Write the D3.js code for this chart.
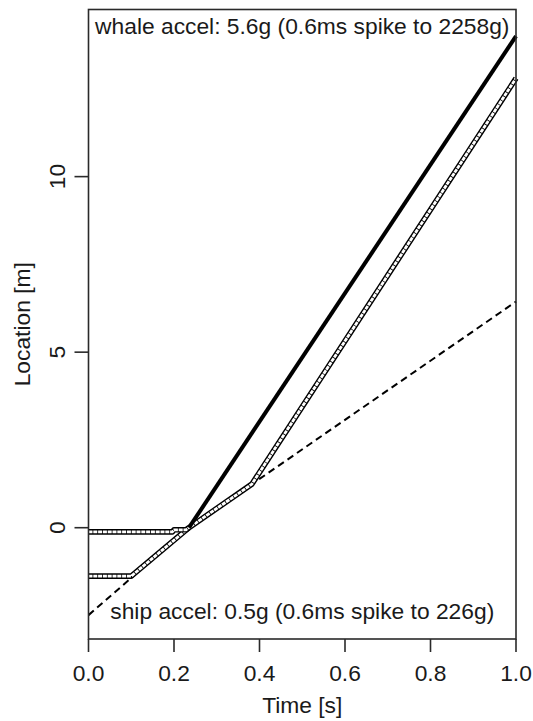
<!DOCTYPE html>
<html>
<head>
<meta charset="utf-8">
<script src="https://cdn.jsdelivr.net/npm/d3@7"></script>
<style>
  body { margin: 0; background: #fff; }
  text { font-family: "Liberation Sans", Arial, sans-serif; fill: #1a1a1a; }
</style>
</head>
<body>
<div id="chart"></div>
<script>
// tick labels
var timeTicks = [0, 0.2, 0.4, 0.6, 0.8, 1.0];
var locTicks = [0, 5, 10];

// ship (dashed)
var shipTime = [0, 0.235, 1.0];
var shipLoc = [-2.49, 0.0, 6.44];

// whale at rest, then pushed (upper track)
var whaleRestTime = [0, 0.196, 0.2, 0.228, 0.235];
var whaleRestLoc = [-0.12, -0.12, -0.06, -0.06, 0.0];
var whaleMoveTime = [0.235, 1.0];
var whaleMoveLoc = [0.0, 14.0];

// second body (lower track), rides with the ship then leaves it
var bodyTime = [0, 0.1, 0.235, 0.382, 1.0];
var bodyLoc = [-1.38, -1.38, 0.0, 1.24, 12.8];

var topText = "whale accel: 5.6g (0.6ms spike to 2258g)";
var bottomText = "ship accel: 0.5g (0.6ms spike to 226g)";

var W = 533, H = 721;
var padL = 88.5, padR = 516, padT = 9.5, padB = 639;
var fs = "22.8px";

var svg = d3.select("#chart").append("svg")
    .attr("width", W)
    .attr("height", H);

var x = d3.scaleLinear().domain([0, 1]).range([padL, padR]);
var y = d3.scaleLinear().domain([-3.17, 14.76]).range([padB, padT]);

function pts(ts, vs) {
    return ts.map(function (t, i) { return [t, vs[i]]; });
}

var line = d3.line()
    .x(function (d) { return x(d[0]); })
    .y(function (d) { return y(d[1]); });

var plot = svg.append("g");

// ship
plot.append("path")
    .attr("d", line(pts(shipTime, shipLoc)))
    .attr("fill", "none")
    .attr("stroke", "#000")
    .attr("stroke-width", 2)
    .attr("stroke-dasharray", "7,4.5");

// chain of small open circles look: black band with white core
function chain(data) {
    plot.append("path")
        .attr("d", line(data))
        .attr("fill", "none")
        .attr("stroke", "#000")
        .attr("stroke-width", 5.6)
        .attr("stroke-linejoin", "round");
    plot.append("path")
        .attr("d", line(data))
        .attr("fill", "none")
        .attr("stroke", "#fff")
        .attr("stroke-width", 2.8)
        .attr("stroke-dasharray", "4,0.8")
        .attr("stroke-linejoin", "round");
}

chain(pts(bodyTime, bodyLoc));
chain(pts(whaleRestTime, whaleRestLoc));

plot.append("path")
    .attr("d", line(pts(whaleMoveTime, whaleMoveLoc)))
    .attr("fill", "none")
    .attr("stroke", "#000")
    .attr("stroke-width", 4);

// box
svg.append("rect")
    .attr("x", padL)
    .attr("y", padT)
    .attr("width", padR - padL)
    .attr("height", padB - padT)
    .attr("fill", "none")
    .attr("stroke", "#2a2a2a")
    .attr("stroke-width", 1.6);

// x axis
var xAxis = svg.append("g");
xAxis.selectAll(".tk").data(timeTicks).enter().append("line")
    .attr("x1", function (d) { return x(d); })
    .attr("x2", function (d) { return x(d); })
    .attr("y1", padB).attr("y2", padB + 13)
    .attr("stroke", "#2a2a2a").attr("stroke-width", 1.6);
xAxis.selectAll(".lb").data(timeTicks).enter().append("text")
    .attr("x", function (d) { return x(d); })
    .attr("y", 681)
    .attr("text-anchor", "middle")
    .attr("font-size", fs)
    .text(function (d) { return d3.format(".1f")(d); });
svg.append("text")
    .attr("x", (padL + padR) / 2)
    .attr("y", 713)
    .attr("text-anchor", "middle")
    .attr("font-size", fs)
    .text("Time [s]");

// y axis
var yAxis = svg.append("g");
yAxis.selectAll(".tk").data(locTicks).enter().append("line")
    .attr("x1", padL - 14).attr("x2", padL)
    .attr("y1", function (d) { return y(d); })
    .attr("y2", function (d) { return y(d); })
    .attr("stroke", "#2a2a2a").attr("stroke-width", 1.6);
yAxis.selectAll(".lb").data(locTicks).enter().append("text")
    .attr("transform", function (d) { return "translate(65," + y(d) + ") rotate(-90)"; })
    .attr("text-anchor", "middle")
    .attr("font-size", fs)
    .text(function (d) { return d; });
svg.append("text")
    .attr("transform", "translate(30," + (padT + padB) / 2 + ") rotate(-90)")
    .attr("text-anchor", "middle")
    .attr("font-size", fs)
    .text("Location [m]");

// annotations
svg.append("text")
    .attr("x", (padL + padR) / 2)
    .attr("y", 34)
    .attr("text-anchor", "middle")
    .attr("font-size", fs)
    .text(topText);
svg.append("text")
    .attr("x", (padL + padR) / 2)
    .attr("y", 619)
    .attr("text-anchor", "middle")
    .attr("font-size", fs)
    .text(bottomText);
</script>
</body>
</html>
